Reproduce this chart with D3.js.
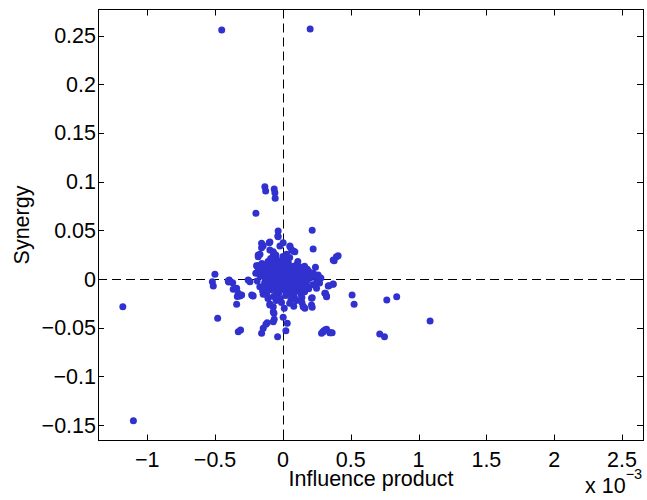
<!DOCTYPE html>
<html><head><meta charset="utf-8">
<script src="https://cdn.jsdelivr.net/npm/d3@7"></script>
<style>
html,body{margin:0;padding:0;background:#fff;}
svg{display:block;font-family:"Liberation Sans",Arial,sans-serif;}
</style></head>
<body>
<svg id="chart" width="647" height="500"></svg>
<script>
// Influence product (in units of 1e-3)
const influence = [
 -0.451, 0.201, -1.18, -1.102, 1.085, 0.839, 0.766, 0.714, 0.749, 0.510, 0.525,
 0.371, 0.339, 0.309, 0.322, 0.407, 0.371, 0.395, 0.309, 0.346, 0.363, 0.285, 0.297,
 -0.133, -0.127, -0.064, -0.059, -0.057, -0.199, 0.216, -0.035, -0.037, 0.223,
 -0.145, -0.157, -0.101, -0.096, -0.071, -0.022, 0.002, 0.027, 0.052, 0.076, 0.088,
 -0.182, -0.169, -0.186, -0.052, -0.046, 0.027, 0.223, -0.501,
 -0.520, -0.513, -0.395, -0.370, -0.366, -0.341, -0.329, -0.317, -0.336, -0.341,
 -0.243, -0.223, -0.481, -0.329, -0.312, -0.157, -0.145, -0.125, -0.116,
 -0.096, -0.071, -0.066, -0.064, -0.071, -0.039, 0.002, 0.032, 0.022, 0.010,
 0.162, 0.211, 0.216, 0.216, 0.297, 0.322, 0.351, 0.314, 0.322, 0.334, 0.370, 0.378,
 -0.189, -0.145, 0.162, 0.223, 0.236, 0.248, 0.186, -0.403, -0.230, 0.27, -0.40,
 0.05, 0.10, 0.14, -0.01, 0.08, 0.15, -0.05, 0.24, 0.26, 0.25, 0.28,
 -0.20, -0.19, -0.18, -0.17, -0.16, -0.155, -0.15, -0.14, -0.135, -0.13, -0.125, -0.12,
 -0.115, -0.11, -0.105, -0.10, -0.095, -0.09, -0.085, -0.08, -0.075, -0.07, -0.065,
 -0.06, -0.055, -0.05, -0.045, -0.04, -0.035, -0.03, -0.025, -0.02, -0.015, -0.01,
 -0.005, 0.0, 0.005, 0.01, 0.015, 0.02, 0.025, 0.03, 0.035, 0.04, 0.045, 0.05, 0.055,
 0.06, 0.065, 0.07, 0.075, 0.08, 0.085, 0.09, 0.095, 0.10, 0.105, 0.11, 0.115, 0.12,
 0.125, 0.13, 0.135, 0.14, 0.145, 0.15, 0.16, 0.17, 0.18, 0.19, 0.20, 0.21, 0.22, 0.23,
 -0.06, -0.03, 0.0, 0.02, 0.04, 0.06, 0.08, 0.10, -0.08, -0.10, -0.12, 0.12, 0.05,
 -0.04, 0.07, 0.09, -0.01, 0.03, -0.14, 0.16, -0.17, 0.18, 0.02, -0.05, 0.11, -0.09,
 0.00, 0.05, -0.02, 0.14, 0.06, -0.11, 0.0, 0.04, -0.02, 0.09, 0.13, -0.07, 0.01,
 -0.03, 0.07, 0.11, -0.13, 0.17,
 -0.157, -0.096, -0.035, 0.052, 0.064, -0.071, -0.182, -0.194,
 -0.096, -0.071, 0.150, 0.211, -0.304, -0.219, -0.256,
 -0.14, -0.11, -0.08, -0.05, -0.02, 0.01, 0.04, 0.07, 0.10, 0.13, 0.16, 0.19,
 -0.13, -0.10, -0.07, -0.04, -0.01, 0.02, 0.05, 0.08, 0.11, 0.14, 0.17,
 -0.12, -0.09, -0.06, -0.03, 0.00, 0.03, 0.06, 0.09, 0.12, 0.15, 0.18,
 -0.15, -0.08, -0.02, 0.04, 0.10, 0.16
];
// Synergy
const synergy = [
 0.2556, 0.2567, -0.0284, -0.1455, -0.0431, -0.0181, -0.0216, -0.0565, -0.0592, -0.0164, -0.0260,
 -0.0055, -0.0068, -0.0147, -0.0181, 0.0239, 0.0195, 0.0229, -0.0524, -0.0551, -0.0551, -0.0558, -0.0540,
 0.0948, 0.0903, 0.0924, 0.0886, 0.0829, 0.0675, 0.0500, 0.0493, 0.0441, 0.0308,
 0.0342, 0.0321, 0.0373, 0.0298, 0.0280, 0.0339, 0.0373, 0.0254, 0.0339, 0.0287, 0.0280,
 0.0246, 0.0254, 0.0133, 0.0246, 0.0195, 0.0195, 0.0059, 0.0050,
 -0.0028, -0.0072, -0.0010, -0.0038, -0.0106, -0.0096, -0.0147, -0.0175, -0.0180, -0.0260,
 -0.0028, -0.0171, -0.0404, -0.0541, -0.0524, -0.0558, -0.0506, -0.0465, -0.0448,
 -0.0257, -0.0284, -0.0352, -0.0414, -0.0438, -0.0592, -0.0393, -0.0455, -0.0530, -0.0300,
 -0.0300, -0.0267, -0.0290, -0.0192, -0.0541, -0.0516, -0.0551, -0.0147, -0.0175, -0.0072, -0.0051, 0.0188,
 0.0137, -0.0157, 0.0041, 0.0058, -0.0062, -0.0096, 0.0075, -0.0017, -0.0164, -0.0040, -0.0030,
 -0.0250, -0.0220, -0.0240, -0.0240, -0.0280, -0.0280, -0.0220, 0.0120, 0.0040, -0.0020, 0.0010,
 0.006, -0.002, 0.010, -0.008, 0.003, 0.016, -0.012, 0.008, -0.004, 0.012, 0.000, -0.016,
 0.005, 0.018, -0.007, 0.010, 0.002, -0.011, 0.015, -0.003, 0.007, -0.018, 0.020,
 0.001, -0.009, 0.012, 0.004, -0.006, 0.016, -0.014, 0.008, 0.000, -0.004, 0.011,
 -0.010, 0.005, -0.002, 0.014, -0.007, 0.003, 0.009, -0.012, 0.001, 0.017, -0.005, 0.006, -0.015,
 0.011, -0.001, 0.004, -0.009, 0.013, -0.019, 0.002, 0.008, -0.006, 0.015, -0.012, 0.000, 0.009,
 -0.003, 0.005, -0.016, 0.012, -0.008, 0.002, 0.007, -0.004, 0.010, -0.010, 0.001, 0.006, -0.006, 0.003,
 -0.003, 0.006, -0.004, 0.010, -0.001, 0.004, -0.007, 0.003, 0.003, -0.005, 0.006, -0.010, -0.008,
 0.010, 0.012, -0.013, 0.019, 0.020, -0.011, -0.013, 0.004, -0.001, -0.017, -0.015, 0.018, 0.021,
 0.023, 0.022, -0.020, -0.019, -0.021, -0.020, 0.000, 0.003, 0.003, 0.006, 0.000, 0.000, -0.011,
 -0.008, -0.004, 0.007, 0.002, 0.005,
 0.0367, 0.0380, 0.0434, 0.0330, 0.0298, 0.0264, 0.0229, 0.0137,
 -0.0267, -0.0336, -0.0284, -0.0198, -0.0164, -0.0175, -0.0010,
 0.008, 0.009, 0.010, 0.008, 0.009, 0.008, 0.010, 0.009, 0.008, 0.010, 0.009, 0.008,
 -0.001, -0.002, 0.000, -0.001, -0.002, 0.001, -0.001, 0.000, -0.002, 0.001, -0.001,
 -0.009, -0.010, -0.008, -0.010, -0.009, -0.008, -0.010, -0.009, -0.008, -0.009, -0.008,
 0.014, 0.015, 0.015, 0.014, 0.014, 0.013
];
const xTicks = [-1, -0.5, 0, 0.5, 1, 1.5, 2, 2.5];
const yTicks = [-0.15, -0.1, -0.05, 0, 0.05, 0.1, 0.15, 0.2, 0.25];
const xLabel = "Influence product";
const yLabel = "Synergy";

const L = 98, R = 644, T = 9.5, B = 440.5;
const x = d3.scaleLinear().domain([-1.363, 2.662]).range([L, R]);
const y = d3.scaleLinear().domain([-0.1658, 0.2767]).range([B, T]);
const svg = d3.select("#chart");
const fmt = v => (v < 0 ? "\u2212" : "") + String(Math.abs(+v.toFixed(3)));
const fs = 21.5;

// dashed zero lines
svg.append("line").attr("x1", L).attr("x2", R).attr("y1", Math.round(y(0)) + 0.5).attr("y2", Math.round(y(0)) + 0.5)
  .attr("stroke", "#000").attr("stroke-width", 1).attr("stroke-dasharray", "9,5");
svg.append("line").attr("y1", T).attr("y2", B).attr("x1", Math.round(x(0)) + 0.5).attr("x2", Math.round(x(0)) + 0.5)
  .attr("stroke", "#000").attr("stroke-width", 1).attr("stroke-dasharray", "9,5");

// points
const pts = influence.map((v, i) => [v, synergy[i]]);
svg.append("g").selectAll("circle").data(pts).join("circle")
  .attr("cx", d => x(d[0])).attr("cy", d => y(d[1])).attr("r", 3.5)
  .attr("fill", "#3131cf");

// axes with inward ticks
const ax = svg.append("g").attr("stroke", "#000").attr("stroke-width", 1);
ax.append("rect").attr("x", L + 0.5).attr("y", T).attr("width", R - L - 1).attr("height", B - T).attr("fill", "none");
xTicks.forEach(t => {
  const px = Math.round(x(t)) + 0.5;
  ax.append("line").attr("x1", px).attr("x2", px).attr("y1", B).attr("y2", B - 6);
  ax.append("line").attr("x1", px).attr("x2", px).attr("y1", T).attr("y2", T + 6);
});
yTicks.forEach(t => {
  const py = Math.round(y(t)) + 0.5;
  ax.append("line").attr("x1", L).attr("x2", L + 6).attr("y1", py).attr("y2", py);
  ax.append("line").attr("x1", R).attr("x2", R - 7).attr("y1", py).attr("y2", py);
});

// tick labels
svg.append("g").selectAll("text").data(xTicks).join("text")
  .attr("x", d => x(d)).attr("y", 467).attr("text-anchor", "middle")
  .attr("font-size", fs).attr("fill", "#000").text(fmt);
svg.append("g").selectAll("text").data(yTicks).join("text")
  .attr("x", 96).attr("y", d => y(d) + 7.5).attr("text-anchor", "end")
  .attr("font-size", fs).attr("fill", "#000").text(fmt);

// axis labels
svg.append("text").attr("x", 371).attr("y", 486).attr("text-anchor", "middle")
  .attr("font-size", fs).attr("fill", "#000").text(xLabel);
svg.append("text").attr("transform", "translate(29,225) rotate(-90)").attr("text-anchor", "middle")
  .attr("font-size", fs).attr("fill", "#000").text(yLabel);

// exponent
const ex = svg.append("text").attr("x", 585).attr("y", 493).attr("font-size", fs).attr("fill", "#000");
ex.append("tspan").text("x 10");
ex.append("tspan").attr("font-size", 14.5).attr("dy", -14).text("\u22123");
</script>
</body></html>
